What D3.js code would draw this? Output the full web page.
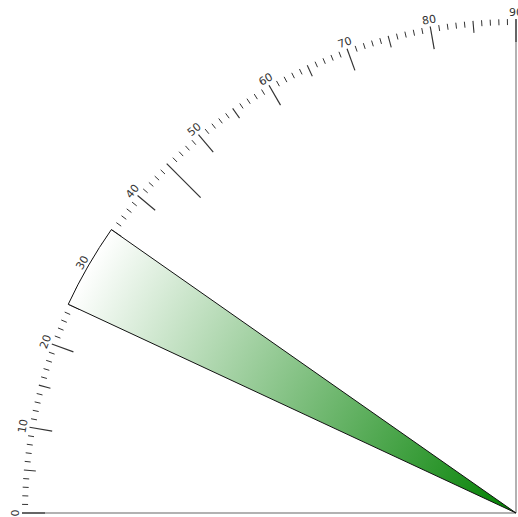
<!DOCTYPE html>
<html>
<head>
  <meta charset="utf-8">
  <title>Quarter gauge</title>
  <script src="https://d3js.org/d3.v7.min.js"></script>
  <style>
    body {
      margin: 0;
      padding: 0;
      background: white;
    }
    svg {
      font-family: "DejaVu Sans", sans-serif;
    }
    .label text {
      font-size: 11px;
      fill: #333;
      text-anchor: middle;
    }
  </style>
</head>
<body>

  <div id="chart"></div>

  <script>
    // axis extent (degrees of the quarter circle)
    var axisDomain = [0, 90];
    // tick values
    var minorTicks = d3.range(0, 91, 1);
    var midTicks = [5, 15, 25, 35, 55, 65, 75, 85];
    var majorTicks = [0, 10, 20, 30, 40, 50, 60, 70, 80, 90];
    var halfTicks = [45];
    var tickLabels = ["0", "10", "20", "30", "40", "50", "60", "70", "80", "90"];
    // the highlighted band
    var bandStart = [25];
    var bandEnd = [35];

    var width = 518,
        height = 517,
        cx = 516,
        cy = 513,
        radius = 494;

    var svg = d3.select("#chart")
      .append("svg")
        .attr("width", width)
        .attr("height", height);

    var g = svg.append("g")
      .attr("transform", "translate(" + cx + "," + cy + ")");

    // value -> angle (d3 convention: 0 is up, clockwise)
    var angle = d3.scaleLinear()
      .domain(axisDomain)
      .range([-Math.PI / 2, 0]);

    function px(v, r) { return r * Math.sin(angle(v)); }
    function py(v, r) { return -r * Math.cos(angle(v)); }

    // gradient for the band, green at the centre fading to white
    // (user space of the band is the translated group, so centre is 0,0)
    var grad = svg.append("defs").append("radialGradient")
      .attr("id", "bandGrad")
      .attr("gradientUnits", "userSpaceOnUse")
      .attr("cx", 0).attr("cy", 0).attr("r", radius);
    grad.append("stop").attr("offset", "0%").attr("stop-color", "#008000");
    grad.append("stop").attr("offset", "100%").attr("stop-color", "#ffffff");

    // axis lines
    g.append("line")
      .attr("x1", px(axisDomain[0], radius)).attr("y1", py(axisDomain[0], radius))
      .attr("x2", 0).attr("y2", 0)
      .attr("stroke", "#999").attr("stroke-width", 1.5);
    g.append("line")
      .attr("x1", px(axisDomain[1], radius)).attr("y1", py(axisDomain[1], radius))
      .attr("x2", 0).attr("y2", 0)
      .attr("stroke", "#999").attr("stroke-width", 1.5);

    // ticks, all starting at the outer radius and pointing in
    function drawTicks(values, len, cls, w) {
      g.selectAll("." + cls)
        .data(values)
        .enter()
        .append("line")
          .attr("class", cls)
          .attr("x1", function(d) { return px(d, radius); })
          .attr("y1", function(d) { return py(d, radius); })
          .attr("x2", function(d) { return px(d, radius - len); })
          .attr("y2", function(d) { return py(d, radius - len); })
          .attr("stroke", "#333")
          .attr("stroke-width", w);
    }
    drawTicks(minorTicks.filter(function(d) { return d % 5 != 0; }), 6, "minor", 1);
    drawTicks(midTicks, 12, "mid", 1.1);
    drawTicks(majorTicks, 23, "major", 1.2);
    drawTicks(halfTicks, 48, "half", 1.2);

    // the band
    var arc = d3.arc()
      .innerRadius(0)
      .outerRadius(radius);

    g.selectAll(".band")
      .data(bandStart.map(function(s, i) { return { start: s, end: bandEnd[i] }; }))
      .enter()
      .append("path")
        .attr("class", "band")
        .attr("d", function(d) {
          return arc({ startAngle: angle(d.start), endAngle: angle(d.end) });
        })
        .attr("fill", "url(#bandGrad)")
        .attr("stroke", "#111")
        .attr("stroke-width", 1);

    // tick labels, tangential
    var labelR = radius + 3;
    var labels = g.append("g").attr("class", "label");
    labels.selectAll("text")
      .data(majorTicks)
      .enter()
      .append("text")
        .attr("transform", function(d, i) {
          return "translate(" + px(d, labelR) + "," + py(d, labelR) + ") rotate(" +
            (angle(d) * 180 / Math.PI) + ")";
        })
        .text(function(d, i) { return tickLabels[i]; });
  </script>

</body>
</html>
